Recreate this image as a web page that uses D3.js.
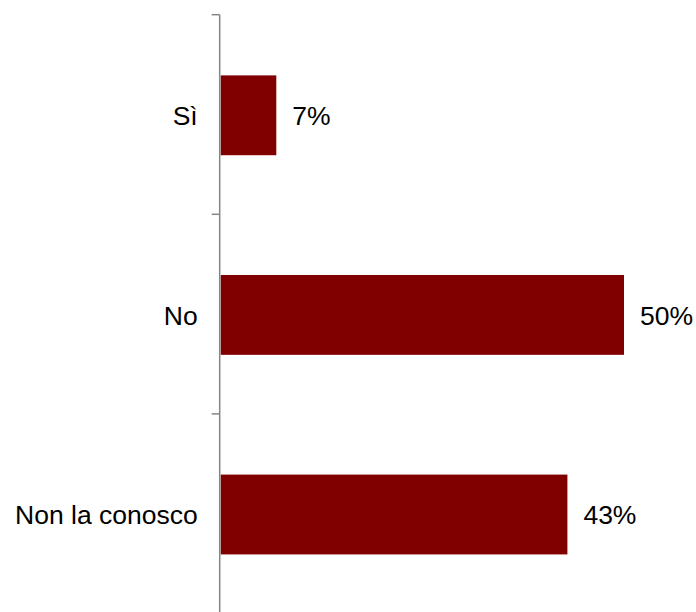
<!DOCTYPE html>
<html>
<head>
<meta charset="utf-8">
<script src="https://cdn.jsdelivr.net/npm/d3@7"></script>
<style>
  html, body { margin: 0; padding: 0; background: #fff; }
  text { font-family: "Liberation Sans", Arial, sans-serif; }
</style>
</head>
<body>
<svg id="chart"></svg>
<script>
// answers and share of responses
var categories = ["Sì", "No", "Non la conosco"];
var values = [7, 50, 43];

var width = 696, height = 612;
var margin = { top: 14.7, right: 0, bottom: 0, left: 219.7 };

var svg = d3.select("#chart").attr("width", width).attr("height", height);

var x = d3.scaleLinear().domain([0, 50]).range([margin.left, 624]);
var y = d3.scaleBand().domain(categories)
  .range([margin.top, height + 1.5])
  .paddingInner(0.6).paddingOuter(0.3);

// bars
svg.append("g").selectAll("rect").data(values).enter().append("rect")
  .attr("x", x(0) + 1)
  .attr("y", function(d, i) { return y(categories[i]) + 0.8; })
  .attr("width", function(d) { return x(d) - x(0) - 1; })
  .attr("height", y.bandwidth())
  .attr("fill", "#800000");

// value labels
svg.append("g").selectAll("text").data(values).enter().append("text")
  .attr("x", function(d) { return x(d) + 16; })
  .attr("y", function(d, i) { return y(categories[i]) + y.bandwidth() / 2 + 1.5; })
  .attr("dy", "0.35em")
  .attr("font-size", 26.5)
  .attr("fill", "#000")
  .text(function(d) { return d + "%"; });

// category axis: line with ticks at band boundaries
var axis = svg.append("g");
var bounds = categories.map(function(c) { return y(c) - y.step() * y.paddingOuter(); });
axis.append("line")
  .attr("x1", margin.left).attr("x2", margin.left)
  .attr("y1", margin.top).attr("y2", height)
  .attr("stroke", "#868686").attr("stroke-width", 1.5);
axis.selectAll("line.tick").data(bounds).enter().append("line")
  .attr("class", "tick")
  .attr("x1", margin.left - 8).attr("x2", margin.left)
  .attr("y1", function(d) { return d; }).attr("y2", function(d) { return d; })
  .attr("stroke", "#868686").attr("stroke-width", 1.5);

axis.selectAll("text").data(categories).enter().append("text")
  .attr("x", margin.left - 22)
  .attr("y", function(d) { return y(d) + y.bandwidth() / 2 + 1.5; })
  .attr("dy", "0.35em")
  .attr("text-anchor", "end")
  .attr("font-size", 26.5)
  .attr("fill", "#000")
  .text(function(d) { return d; });
</script>
</body>
</html>
